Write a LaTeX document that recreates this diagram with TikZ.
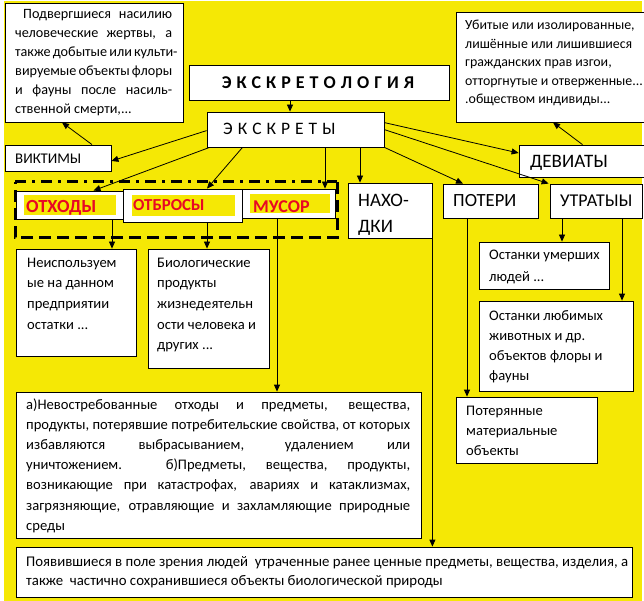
\documentclass[tikz,border=0pt]{standalone}
\usepackage{fontspec}
\setmainfont{Carlito}
\usetikzlibrary{arrows.meta,fit,calc}
\definecolor{yel}{RGB}{245,232,5}
\definecolor{lblred}{RGB}{232,8,36}
\newcommand\fs[2]{\fontsize{#1}{#2}\selectfont}
\newcommand\jl[1]{\makebox[\linewidth][s]{#1}}
\newcommand\ksp{\kern5pt\relax}
\begin{document}
\begin{tikzpicture}[x=1pt,y=-1pt,
  box/.style={draw, fill=white, line width=0.8pt, inner sep=0pt},
  hl/.style={fill=yel, inner sep=0pt},
  arr/.style={line width=0.8pt, -{Triangle[length=7pt,width=6pt]}},
  txt/.style={inner sep=0pt, anchor=base west, align=left},
  red lbl/.style={inner sep=0pt, anchor=base west, text=lblred, font=\bfseries},
  frame/.style={line width=3pt},
]
\useasboundingbox (0,0) rectangle (644,601);
\fill[white] (0,0) rectangle (644,601);
\fill[yel] (4,1) rectangle (642,601);

% dashed frame
\draw[frame, dash pattern=on 11pt off 6pt on 3pt off 6pt] (15,182) -- (337,182);
\draw[frame, dash pattern=on 12pt off 6pt] (337,182) -- (337,238) -- (15,238) -- (15,182);

% boxes
\node[box, fit={(5,3)(183,122)}] (topleft) {};
\node[box, fit={(456,12)(646,122)}] (topright) {};
\node[box, fit={(189,65)(449,100)}] (ekslog) {};
\node[box, fit={(207,112)(384,147)}] (ekskrety) {};
\node[box, fit={(5,145)(111,171)}] (viktimy) {};
\node[box, fit={(519,145)(646,177)}] (deviaty) {};
\node[box, fit={(16,191)(123,219)}] (otkhody) {};
\node[box, fit={(123,189)(242,222)}] (otbrosy) {};
\node[box, fit={(242,189)(335,218)}] (musor) {};
\node[box, fit={(348,183)(432,238)}] (nakhodki) {};
\node[box, fit={(443,184)(538,218)}] (poteri) {};
\node[box, fit={(550,184)(642,218)}] (utraty) {};
\node[box, fit={(16,249)(136,356)}] (neisp) {};
\node[box, fit={(148,249)(269,368)}] (bio) {};
\node[box, fit={(479,242)(609,289)}] (ost1) {};
\node[box, fit={(479,301)(633,391)}] (ost2) {};
\node[box, fit={(456,397)(597,463)}] (poteryan) {};
\node[box, fit={(16,392)(421,538)}] (big) {};
\node[box, fit={(16,547)(632,597)}] (bottom) {};

% highlights
\node[hl, fit={(24,195)(116,215)}] (hl1) {};
\node[hl, fit={(132,195)(235,216)}] (hl2) {};
\node[hl, fit={(250,194)(330,213)}] (hl3) {};

% texts
\node[txt] (ttopleft) at (15,19) {\begin{minipage}[t]{157pt}\fs{14.2}{19}%
\jl{\hspace*{8pt}Подвергшиеся насилию}\\
\jl{человеческие жертвы, а}\\
\jl{также добытые или культи-}\\
\jl{вируемые объекты флоры}\\
\jl{и фауны после насиль-}\\
ственной смерти,...\end{minipage}};

\node[txt] (ttopright) at (465,30) {\begin{minipage}[t]{260pt}\fs{13.9}{18.4}%
Убитые или изолированные,\\
лишённые или лишившиеся\\
гражданских прав изгои,\\
отторгнутые и отверженные...\\
.обществом индивиды...\end{minipage}};

\node[inner sep=0pt, anchor=base, font=\fs{18}{20}\bfseries] (tekslog) at (318,89)
  {Э\ksp К\ksp С\ksp К\ksp Р\ksp Е\ksp Т\ksp О\ksp Л\ksp О\ksp Г\ksp И\ksp Я};
\node[txt, font=\fs{17.5}{20}] (tekskrety) at (223,135)
  {Э\ksp К\ksp С\ksp К\ksp Р\ksp Е\ksp Т\ksp Ы};
\node[txt, font=\fs{14.8}{16}] (tviktimy) at (15,164) {ВИКТИМЫ};
\node[txt, font=\fs{19}{20}] (tdeviaty) at (530,168) {ДЕВИАТЫ};
\node[red lbl, font=\fs{18.5}{20}\bfseries] (totkhody) at (26,213) {ОТХОДЫ};
\node[red lbl, font=\fs{16.8}{18}\bfseries] (totbrosy) at (133,210.5) {ОТБРОСЫ};
\node[red lbl, font=\fs{18}{20}\bfseries] (tmusor) at (253,213) {МУСОР};
\node[txt] (tnakhodki) at (358,207) {\begin{minipage}[t]{90pt}\fs{19}{26}НАХО-\\ДКИ\end{minipage}};
\node[txt, font=\fs{18.6}{20}] (tpoteri) at (453,207) {ПОТЕРИ};
\node[txt, font=\fs{18}{20}] (tutraty) at (560,207) {УТРАТЫЫ};

\node[txt] (tneisp) at (27,267) {\begin{minipage}[t]{150pt}\fs{14.6}{20.7}%
Неиспользуем\\ые на данном\\предприятии\\остатки ...\end{minipage}};
\node[txt] (tbio) at (157,267) {\begin{minipage}[t]{150pt}\fs{14.6}{20.7}%
Биологические\\продукты\\жизнедеятельн\\ости человека и\\других ...\end{minipage}};
\node[txt] (tost1) at (489,260) {\begin{minipage}[t]{150pt}\fs{14.6}{21}%
Останки умерших\\людей ...\end{minipage}};
\node[txt] (tost2) at (489,320) {\begin{minipage}[t]{150pt}\fs{14.6}{20}%
Останки любимых\\животных и др.\\объектов флоры и\\фауны\end{minipage}};
\node[txt] (tpoteryan) at (466,415) {\begin{minipage}[t]{150pt}\fs{14.6}{20}%
Потерянные\\материальные\\объекты\end{minipage}};
\node[txt] (tbig) at (26,409) {\begin{minipage}[t]{384pt}\fs{14.6}{20.2}%
\jl{а)Невостребованные отходы и предметы, вещества,}\\
\jl{продукты, потерявшие потребительские свойства, от которых}\\
\jl{избавляются выбрасыванием, удалением или}\\
\jl{уничтожением. б)Предметы, вещества, продукты,}\\
\jl{возникающие при катастрофах, авариях и катаклизмах,}\\
\jl{загрязняющие, отравляющие и захламляющие природные}\\
среды\end{minipage}};
\node[txt] (tbottom) at (26,566) {\begin{minipage}[t]{620pt}\fs{14.8}{19.5}%
Появившиеся в поле зрения людей\ \ утраченные ранее ценные предметы, вещества, изделия, а\\
также\ \ частично сохранившиеся объекты биологической природы\end{minipage}};

% connectors
\draw[arr] ([xshift=-29pt]ekslog.south) -- ([xshift=-29pt]ekslog.south |- ekskrety.north);
\draw[arr] ([xshift=34pt]viktimy.north) -- ([xshift=-32pt]topleft.south);
\draw[arr] (deviaty.north) -- ([xshift=2pt]topright.south);
\draw[arr] ([yshift=-19pt]ekskrety.north west) -- ([yshift=-3pt]viktimy.east);
\draw[arr] ([xshift=3pt]ekskrety.south west) -- ([xshift=24pt]otkhody.north);
\draw[arr] ([xshift=-53pt]ekskrety.south) -- ([xshift=24.5pt]otbrosy.north);
\draw[arr] ([xshift=29.5pt]ekskrety.south) -- ([xshift=29.5pt]ekskrety.south |- musor.north);
\draw[arr] ([xshift=64.5pt]ekskrety.south) -- ([xshift=64.5pt]ekskrety.south |- nakhodki.north);
\draw[arr] (ekskrety.south east) -- ([xshift=-27.5pt]poteri.north);
\draw[arr] ([yshift=-11pt]ekskrety.north east) -- ([yshift=8pt]deviaty.west);
\draw[arr] ([yshift=-18pt]ekskrety.north east) -- ([xshift=-1pt]utraty.north west);
\draw[arr] ([xshift=42.5pt]otkhody.south) -- ([xshift=42.5pt]otkhody.south |- neisp.north);
\draw[arr] ([xshift=24.5pt]otbrosy.south) -- ([xshift=24.5pt]otbrosy.south |- bio.north);
\draw[arr] ([xshift=-11.5pt]musor.south) -- ([xshift=-11.5pt]musor.south |- big.north);
\draw[arr] (nakhodki.south east) -- (nakhodki.south east |- bottom.north);
\draw[arr] ([xshift=-23.5pt]poteri.south) -- ([xshift=-23.5pt]poteri.south |- poteryan.north);
\draw[arr] ([xshift=-34pt]utraty.south) -- ([xshift=-34pt]utraty.south |- ost1.north);
\draw[arr] ([xshift=26pt]utraty.south) -- ([xshift=26pt]utraty.south |- ost2.north);
\end{tikzpicture}
\end{document}
